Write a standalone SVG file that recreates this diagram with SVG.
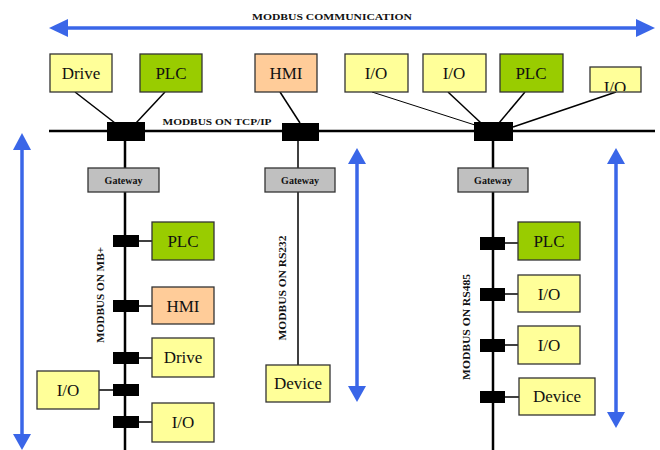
<svg xmlns="http://www.w3.org/2000/svg" width="660" height="450" viewBox="0 0 660 450">
<style>
.box{stroke:#333;stroke-width:1.3}
.y{fill:#ffff99}.g{fill:#99cc00}.o{fill:#ffcc99}.gw{fill:#c0c0c0}
.t{font-family:"Liberation Serif",serif;font-size:17px;fill:#111;text-anchor:middle}
.s{font-family:"Liberation Serif",serif;font-size:9px;font-weight:bold;fill:#111;text-anchor:middle}
.v{font-size:10px}
.gt{font-family:"Liberation Serif",serif;font-size:10px;font-weight:bold;fill:#111;text-anchor:middle}
.bus{stroke:#000;stroke-width:2.5;fill:none}
.ln{stroke:#000;stroke-width:1.5;fill:none}
.tap{fill:#000}
.ba{stroke:#3a66e8;stroke-width:3.5;fill:none}
.bh{fill:#3a66e8}
</style>
<defs><clipPath id="c1"><rect x="590" y="67" width="51" height="24"/></clipPath></defs>
<rect width="660" height="450" fill="#fff"/>

<g id="arrows">
<line class="ba" x1="64" y1="28" x2="640" y2="28"/>
<polygon class="bh" points="49,28 68,19 68,37"/>
<polygon class="bh" points="655,28 636,19 636,37"/>
<line class="ba" x1="22" y1="146" x2="22" y2="437"/>
<polygon class="bh" points="22,133 13,150 31,150"/>
<polygon class="bh" points="22,450 13,434 31,434"/>
<line class="ba" x1="357" y1="160" x2="357" y2="390"/>
<polygon class="bh" points="357,148 348,164 366,164"/>
<polygon class="bh" points="357,402 348,386 366,386"/>
<line class="ba" x1="616" y1="160" x2="616" y2="416"/>
<polygon class="bh" points="616,148 607,164 625,164"/>
<polygon class="bh" points="616,428 607,412 625,412"/>
<text class="s" x="332" y="20" textLength="160" lengthAdjust="spacingAndGlyphs">MODBUS COMMUNICATION</text>
</g>

<g id="connectors">
<line class="bus" x1="49" y1="131" x2="655" y2="131"/>
<line class="ln" x1="75" y1="92" x2="115" y2="123"/>
<line class="ln" x1="165" y1="92" x2="136" y2="123"/>
<line class="ln" x1="280" y1="92" x2="300" y2="123"/>
<line stroke="#000" stroke-width="1" x1="372" y1="92" x2="478" y2="126"/>
<line class="ln" x1="448" y1="92" x2="481" y2="123"/>
<line class="ln" x1="525" y1="92" x2="499" y2="123"/>
<line class="ln" x1="616" y1="92" x2="513" y2="127"/>
<line class="bus" x1="125" y1="141" x2="125" y2="450"/>
<line class="ln" x1="298" y1="141" x2="298" y2="365"/>
<line class="bus" x1="493" y1="141" x2="493" y2="450"/>
<line class="ln" x1="139" y1="241" x2="152" y2="241"/>
<line class="ln" x1="139" y1="306" x2="152" y2="306"/>
<line class="ln" x1="139" y1="358" x2="152" y2="358"/>
<line class="ln" x1="99" y1="390" x2="113" y2="390"/>
<line class="ln" x1="139" y1="422" x2="152" y2="422"/>
<line class="ln" x1="505" y1="243" x2="518" y2="243"/>
<line class="ln" x1="505" y1="294" x2="518" y2="294"/>
<line class="ln" x1="505" y1="345" x2="518" y2="345"/>
<line class="ln" x1="505" y1="397" x2="519" y2="397"/>
<rect class="tap" x="107" y="122" width="38" height="19"/>
<rect class="tap" x="282" y="123" width="37" height="18"/>
<rect class="tap" x="474" y="122" width="39" height="19"/>
<rect class="tap" x="113" y="235" width="26" height="12"/>
<rect class="tap" x="113" y="300" width="26" height="12"/>
<rect class="tap" x="113" y="352" width="26" height="12"/>
<rect class="tap" x="113" y="384" width="26" height="12"/>
<rect class="tap" x="113" y="416" width="26" height="12"/>
<rect class="tap" x="480" y="237" width="25" height="13"/>
<rect class="tap" x="480" y="288" width="25" height="13"/>
<rect class="tap" x="480" y="339" width="25" height="13"/>
<rect class="tap" x="480" y="391" width="25" height="12"/>
<text class="s" x="217" y="125" textLength="109" lengthAdjust="spacingAndGlyphs">MODBUS ON TCP/IP</text>
<text class="s v" transform="translate(104,295) rotate(-90)" textLength="96" lengthAdjust="spacingAndGlyphs">MODBUS ON MB+</text>
<text class="s v" transform="translate(286,288) rotate(-90)" textLength="105" lengthAdjust="spacingAndGlyphs">MODBUS ON RS232</text>
<text class="s v" transform="translate(470,327) rotate(-90)" textLength="106" lengthAdjust="spacingAndGlyphs">MODBUS ON RS485</text>
</g>

<g id="drive-top"><rect class="box y" x="50" y="54" width="62" height="38"/><text class="t" x="81" y="79">Drive</text></g>
<g id="plc-top1"><rect class="box g" x="140" y="54" width="62" height="38"/><text class="t" x="171" y="79">PLC</text></g>
<g id="hmi-top"><rect class="box o" x="255" y="54" width="62" height="38"/><text class="t" x="286" y="79">HMI</text></g>
<g id="io-top1"><rect class="box y" x="345" y="54" width="63" height="38"/><text class="t" x="376" y="79">I/O</text></g>
<g id="io-top2"><rect class="box y" x="423" y="54" width="63" height="38"/><text class="t" x="454" y="79">I/O</text></g>
<g id="plc-top2"><rect class="box g" x="500" y="54" width="63" height="38"/><text class="t" x="531" y="79">PLC</text></g>
<g id="io-top3"><rect class="box y" x="590" y="67" width="51" height="25"/><text class="t" x="615" y="93" clip-path="url(#c1)">I/O</text></g>

<g id="gateway-left"><rect class="box gw" x="88" y="168" width="71" height="24"/><text class="gt" x="123.5" y="184">Gateway</text></g>
<g id="gateway-mid"><rect class="box gw" x="265" y="168" width="70" height="24"/><text class="gt" x="300" y="184">Gateway</text></g>
<g id="gateway-right"><rect class="box gw" x="458" y="168" width="70" height="24"/><text class="gt" x="493" y="184">Gateway</text></g>

<g id="plc-mb"><rect class="box g" x="152" y="222" width="62" height="38"/><text class="t" x="183" y="247">PLC</text></g>
<g id="hmi-mb"><rect class="box o" x="152" y="287" width="62" height="37"/><text class="t" x="183" y="312">HMI</text></g>
<g id="drive-mb"><rect class="box y" x="152" y="338" width="62" height="39"/><text class="t" x="183" y="363">Drive</text></g>
<g id="io-mb-left"><rect class="box y" x="37" y="371" width="62" height="38"/><text class="t" x="68" y="396">I/O</text></g>
<g id="io-mb"><rect class="box y" x="152" y="403" width="62" height="39"/><text class="t" x="183" y="428">I/O</text></g>

<g id="device-232"><rect class="box y" x="266" y="365" width="64" height="37"/><text class="t" x="298" y="389">Device</text></g>

<g id="plc-485"><rect class="box g" x="518" y="222" width="62" height="38"/><text class="t" x="549" y="247">PLC</text></g>
<g id="io-485a"><rect class="box y" x="518" y="275" width="62" height="37"/><text class="t" x="549" y="300">I/O</text></g>
<g id="io-485b"><rect class="box y" x="518" y="326" width="62" height="38"/><text class="t" x="549" y="351">I/O</text></g>
<g id="device-485"><rect class="box y" x="519" y="378" width="76" height="37"/><text class="t" x="557" y="402">Device</text></g>
</svg>
